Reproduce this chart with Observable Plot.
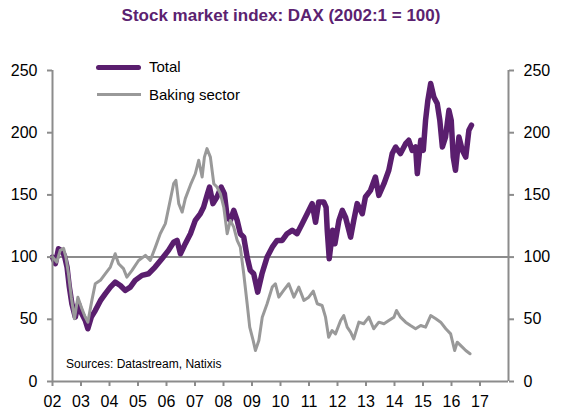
<!DOCTYPE html>
<html>
<head>
<meta charset="utf-8">
<script src="https://cdn.jsdelivr.net/npm/d3@7"></script>
<script src="https://cdn.jsdelivr.net/npm/@observablehq/plot@0.6"></script>
<style>
  body { margin: 0; background: #ffffff; font-family: "Liberation Sans", Arial, sans-serif; }
  #wrap { position: relative; width: 562px; height: 416px; overflow: hidden; background: #ffffff; }
  #title { height: 32px; line-height: 32px; text-align: center; font-size: 17px; font-weight: bold; color: #5b2270; }
  .leg { position: absolute; }
  .legtxt { position: absolute; font-size: 15px; color: #000; line-height: 18px; }
  #src { position: absolute; left: 66px; top: 356px; font-size: 12px; line-height: 16px; color: #000; }
</style>
</head>
<body>
<div id="wrap">
  <div id="title">Stock market index: DAX (2002:1 = 100)</div>
  <div id="chart"></div>
  <div class="leg" style="left:96px; top:64.5px; width:45px; height:5px; background:#5a1e6e; border-radius:2.5px;"></div>
  <div class="legtxt" style="left:149px; top:58px;">Total</div>
  <div class="leg" style="left:97px; top:93px; width:44px; height:3px; background:#999999;"></div>
  <div class="legtxt" style="left:149px; top:85.5px;">Baking sector</div>
  <div id="src">Sources: Datastream, Natixis</div>
</div>
<script>
// ---- Data ----
const seriesNames = ["Total", "Baking sector"];

const totalYears = [
  2002.00, 2002.10, 2002.21, 2002.33, 2002.42, 2002.51, 2002.59, 2002.68, 2002.80, 2002.91,
  2003.03, 2003.15, 2003.24, 2003.36, 2003.50, 2003.68, 2003.85, 2004.03, 2004.20, 2004.38,
  2004.55, 2004.73, 2004.90, 2005.14, 2005.37, 2005.60, 2005.84, 2006.07, 2006.25, 2006.37,
  2006.49, 2006.66, 2006.84, 2007.01, 2007.19, 2007.30, 2007.42, 2007.51, 2007.63, 2007.77,
  2007.92, 2008.03, 2008.13, 2008.24, 2008.36, 2008.48, 2008.59, 2008.71, 2008.83, 2008.94,
  2009.06, 2009.20, 2009.35, 2009.53, 2009.71, 2009.88, 2010.06, 2010.23, 2010.41, 2010.58,
  2010.76, 2010.94, 2011.11, 2011.23, 2011.34, 2011.52, 2011.60, 2011.64, 2011.69, 2011.71,
  2011.83, 2011.91, 2012.05, 2012.17, 2012.28, 2012.46, 2012.57, 2012.69, 2012.87, 2012.98,
  2013.16, 2013.33, 2013.45, 2013.63, 2013.80, 2013.92, 2014.04, 2014.21, 2014.39, 2014.50,
  2014.62, 2014.74, 2014.80, 2014.92, 2015.01, 2015.09, 2015.17, 2015.27, 2015.38, 2015.50,
  2015.59, 2015.68, 2015.79, 2015.91, 2015.99, 2016.06, 2016.14, 2016.26, 2016.38, 2016.50,
  2016.61, 2016.70
];
const totalValues = [
  100, 94.7, 106.7, 105, 101, 92, 76, 62.5, 51.7, 62.5,
  54.4, 49, 42.4, 51.7, 57, 65, 70.5, 75.9, 79.9, 77.2,
  73.2, 75.9, 81.3, 85.3, 86.6, 92, 98.7, 105.4, 112, 113.5,
  102.7, 110.8, 118.8, 129.5, 135, 140, 149.6, 156.3, 143, 148.3,
  156.3, 151, 132, 129.5, 137.6, 129.5, 118.8, 116, 100, 89.3,
  86.6, 71.8, 86.6, 100, 108, 113.4, 113.4, 118.8, 121.5, 118.8,
  126.9, 135, 143, 128, 144.3, 144.3, 140, 121.5, 105.4, 98.7,
  121.5, 110.8, 129.5, 137.6, 132.2, 116, 129.5, 143, 134.9, 148.3,
  153.7, 164.4, 149.6, 159, 169.8, 183.2, 188.5, 183.2, 191.2, 193.9,
  185.8, 188.5, 167.1, 193.9, 185.8, 210, 226, 239.5, 228.7, 223.4,
  210, 188.5, 196.5, 218, 210, 180.4, 169.8, 196.5, 185.8, 180.4,
  202, 206
];

const bakingYears = [
  2002.00, 2002.15, 2002.27, 2002.39, 2002.47, 2002.56, 2002.66, 2002.77, 2002.89, 2003.01,
  2003.15, 2003.24, 2003.38, 2003.50, 2003.68, 2003.85, 2004.03, 2004.20, 2004.32, 2004.49,
  2004.61, 2004.79, 2005.02, 2005.26, 2005.43, 2005.61, 2005.78, 2005.96, 2006.13, 2006.25,
  2006.33, 2006.43, 2006.55, 2006.66, 2006.84, 2007.01, 2007.13, 2007.25, 2007.33, 2007.42,
  2007.54, 2007.66, 2007.77, 2007.89, 2008.01, 2008.13, 2008.24, 2008.36, 2008.48, 2008.59,
  2008.71, 2008.83, 2008.92, 2009.04, 2009.12, 2009.24, 2009.36, 2009.53, 2009.71, 2009.82,
  2009.94, 2010.11, 2010.29, 2010.47, 2010.64, 2010.82, 2010.99, 2011.15, 2011.29, 2011.46,
  2011.58, 2011.69, 2011.81, 2011.93, 2012.11, 2012.22, 2012.34, 2012.46, 2012.57, 2012.75,
  2012.92, 2013.10, 2013.27, 2013.45, 2013.63, 2013.80, 2013.98, 2014.07, 2014.21, 2014.39,
  2014.56, 2014.74, 2014.92, 2015.09, 2015.27, 2015.45, 2015.62, 2015.80, 2015.97, 2016.11,
  2016.20, 2016.38, 2016.50, 2016.65
];
const bakingValues = [
  100, 96, 105.4, 107, 100, 86.6, 67.8, 50.4, 67.8, 59.8,
  51.7, 47.7, 65, 78.6, 81.3, 86.6, 92, 102.7, 94.7, 90.7,
  83.9, 89.3, 97.3, 101.4, 97.3, 108, 118.8, 126.9, 145.6, 159,
  161.7, 143, 136.2, 147, 158, 167, 177.8, 164.4, 180.4, 187.2,
  180.4, 159, 156.3, 151, 140, 118.8, 129.5, 124.1, 113.4, 108,
  86.6, 62.5, 43.7, 33, 24.9, 33, 51.7, 62.5, 75.9, 78.6,
  67.8, 73.2, 78.6, 67.8, 75.9, 65.2, 67.8, 72.6, 62.5, 61.1,
  51.7, 35.6, 41, 38.3, 49, 53, 43.7, 39.7, 34.3, 47.7,
  46.4, 51.7, 42.4, 47.7, 46.4, 49, 51.7, 57.1, 51.7, 47.7,
  45, 42.4, 45, 43.7, 53, 50.4, 47.7, 42.4, 38.3, 24.9,
  31.6, 27.6, 24.9, 22.3
];

const yTicks = [0, 50, 100, 150, 200, 250];
const xTicks = [2002, 2003, 2004, 2005, 2006, 2007, 2008, 2009, 2010, 2011, 2012, 2013, 2014, 2015, 2016, 2017];
const xTickLabels = ["02","03","04","05","06","07","08","09","10","11","12","13","14","15","16","17"];
const xDomain = [2002, 2018];
const baseLine = 100;

// ---- Build tables ----
const total = totalYears.map((t, i) => ({year: t, value: totalValues[i], series: seriesNames[0]}));
const baking = bakingYears.map((t, i) => ({year: t, value: bakingValues[i], series: seriesNames[1]}));

const purple = "#5a1e6e";
const grey = "#999999";
const axisGrey = "#8c8c8c";

const chart = Plot.plot({
  width: 562,
  height: 384,
  marginTop: 38,
  marginBottom: 35,
  marginLeft: 52,
  marginRight: 54,
  style: {fontFamily: "'Liberation Sans', Arial, sans-serif", fontSize: "16px", background: "transparent", color: "#000"},
  x: {type: "linear", domain: xDomain},
  y: {domain: [0, 250]},
  marks: [
    Plot.ruleY([baseLine], {stroke: axisGrey, strokeWidth: 2}),
    Plot.line(total, {x: "year", y: "value", stroke: purple, strokeWidth: 5.5, strokeLinejoin: "round", strokeLinecap: "round"}),
    Plot.line(baking, {x: "year", y: "value", stroke: grey, strokeWidth: 3, strokeLinejoin: "round"}),
    Plot.ruleX([xDomain[0], xDomain[1]], {y1: 0, y2: 250, stroke: axisGrey, strokeWidth: 2}),
    Plot.ruleY([0], {stroke: axisGrey, strokeWidth: 2}),
    Plot.axisY({anchor: "left", ticks: yTicks, tickSize: 5, tickPadding: 10, stroke: axisGrey, strokeWidth: 2, fill: "#000", label: null}),
    Plot.axisY({anchor: "right", ticks: yTicks, tickSize: 5, tickPadding: 10, stroke: axisGrey, strokeWidth: 2, fill: "#000", label: null}),
    Plot.axisX({ticks: xTicks, tickSize: 5, tickPadding: 9, stroke: axisGrey, strokeWidth: 2, fill: "#000", label: null,
      tickFormat: d => xTickLabels[xTicks.indexOf(d)]})
  ]
});
document.getElementById("chart").appendChild(chart);
</script>
</body>
</html>
